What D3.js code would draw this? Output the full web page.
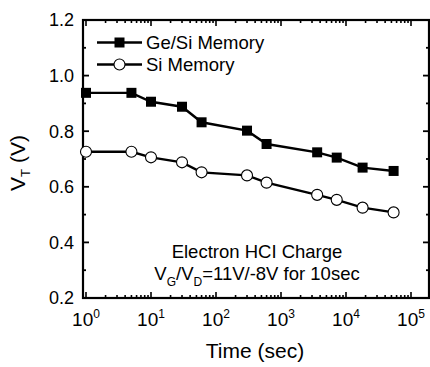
<!DOCTYPE html>
<html><head><meta charset="utf-8">
<script src="https://cdn.jsdelivr.net/npm/d3@7"></script>
<style>html,body{margin:0;padding:0;background:#fff;}svg{display:block;}text{font-family:"Liberation Sans",Arial,Helvetica,sans-serif;fill:#000;}</style>
</head><body>
<svg id="chart" width="430" height="367"></svg>
<script>
const times = [1, 5, 10, 30, 60, 300, 600, 3600, 7200, 18000, 54000];
const geSiValues = [0.938, 0.938, 0.906, 0.888, 0.832, 0.802, 0.754, 0.724, 0.705, 0.669, 0.657];
const siValues = [0.726, 0.726, 0.706, 0.688, 0.652, 0.641, 0.615, 0.571, 0.553, 0.525, 0.508];
const seriesNames = ["Ge/Si Memory", "Si Memory"];
const xTickExponents = [0, 1, 2, 3, 4, 5];
const yTickLabels = [0.2, 0.4, 0.6, 0.8, 1.0, 1.2];
const yMinorTicks = [0.3, 0.5, 0.7, 0.9, 1.1];

const svg = d3.select("#chart");
const box = {left: 83, right: 429, top: 20, bottom: 298};
const x = d3.scaleLog().domain([1, 1e5]).range([86, 411]);
const y = d3.scaleLinear().domain([0.2, 1.2]).range([box.bottom, box.top]);

const g = svg.append("g");
g.append("rect").attr("x", box.left).attr("y", box.top)
  .attr("width", box.right - box.left).attr("height", box.bottom - box.top)
  .attr("fill", "none").attr("stroke", "#000").attr("stroke-width", 2.2);

const xTicks = [];
xTickExponents.forEach(e => {
  for (let m = 1; m <= 9; m++) {
    const v = m * Math.pow(10, e);
    if (v <= 1e5 * 1.0001) xTicks.push({v, major: m === 1});
  }
});
xTicks.forEach(t => {
  const px = x(t.v), len = t.major ? 6 : 3;
  g.append("line").attr("x1", px).attr("x2", px).attr("y1", box.bottom).attr("y2", box.bottom - len)
    .attr("stroke", "#000").attr("stroke-width", 1.6);
  g.append("line").attr("x1", px).attr("x2", px).attr("y1", box.top).attr("y2", box.top + len)
    .attr("stroke", "#000").attr("stroke-width", 1.6);
});
xTickExponents.forEach(e => {
  const t = g.append("text").attr("x", x(Math.pow(10, e))).attr("y", 326)
    .attr("text-anchor", "middle").style("font-size", "19px");
  t.append("tspan").text("10");
  t.append("tspan").attr("dy", -8).style("font-size", "12px").text(e);
});

yTickLabels.forEach(v => {
  const py = y(v);
  g.append("line").attr("x1", box.left).attr("x2", box.left + 6).attr("y1", py).attr("y2", py)
    .attr("stroke", "#000").attr("stroke-width", 1.8);
  g.append("line").attr("x1", box.right).attr("x2", box.right - 6).attr("y1", py).attr("y2", py)
    .attr("stroke", "#000").attr("stroke-width", 1.8);
  g.append("text").attr("x", 74).attr("y", py).attr("dy", "0.36em")
    .attr("text-anchor", "end").style("font-size", "18px").text(v.toFixed(1));
});
yMinorTicks.forEach(v => {
  const py = y(v);
  g.append("line").attr("x1", box.left).attr("x2", box.left + 3).attr("y1", py).attr("y2", py)
    .attr("stroke", "#000").attr("stroke-width", 1.8);
  g.append("line").attr("x1", box.right).attr("x2", box.right - 3).attr("y1", py).attr("y2", py)
    .attr("stroke", "#000").attr("stroke-width", 1.8);
});

g.append("text").attr("x", (box.left + box.right) / 2 - 1).attr("y", 358)
  .attr("text-anchor", "middle").style("font-size", "21px").text("Time (sec)");
const yl = g.append("text").attr("transform", `translate(25,${(box.top + box.bottom) / 2 + 4}) rotate(-90)`)
  .attr("text-anchor", "middle").style("font-size", "21px");
yl.append("tspan").text("V");
yl.append("tspan").attr("dy", 5).style("font-size", "13px").text("T");
yl.append("tspan").attr("dy", -5).text(" (V)");

const line = d3.line().x((d, i) => x(times[i])).y(d => y(d));
[geSiValues, siValues].forEach(vals => {
  g.append("path").datum(vals).attr("d", line).attr("fill", "none")
    .attr("stroke", "#000").attr("stroke-width", 2.4);
});
g.selectAll(".sq").data(geSiValues).enter().append("rect")
  .attr("x", (d, i) => x(times[i]) - 5).attr("y", d => y(d) - 5)
  .attr("width", 10).attr("height", 10).attr("fill", "#000");
g.selectAll(".ci").data(siValues).enter().append("circle")
  .attr("cx", (d, i) => x(times[i])).attr("cy", d => y(d)).attr("r", 5.5)
  .attr("fill", "#fff").attr("stroke", "#000").attr("stroke-width", 1.1);

const legY = [42.5, 64.5];
seriesNames.forEach((name, k) => {
  const ly = legY[k];
  g.append("line").attr("x1", 97).attr("x2", 142).attr("y1", ly).attr("y2", ly)
    .attr("stroke", "#000").attr("stroke-width", 2.4);
  if (k === 0) {
    g.append("rect").attr("x", 119.5 - 5).attr("y", ly - 5).attr("width", 10).attr("height", 10).attr("fill", "#000");
  } else {
    g.append("circle").attr("cx", 119.5).attr("cy", ly).attr("r", 5.5)
      .attr("fill", "#fff").attr("stroke", "#000").attr("stroke-width", 1.1);
  }
  g.append("text").attr("x", 146).attr("y", ly).attr("dy", "0.36em")
    .style("font-size", "18.5px").text(name);
});

g.append("text").attr("x", 257).attr("y", 258).attr("text-anchor", "middle")
  .style("font-size", "18.5px").text("Electron HCI Charge");
const a2 = g.append("text").attr("x", 257).attr("y", 280).attr("text-anchor", "middle")
  .style("font-size", "18.5px");
a2.append("tspan").text("V");
a2.append("tspan").attr("dy", 6).style("font-size", "12px").text("G");
a2.append("tspan").attr("dy", -6).text("/V");
a2.append("tspan").attr("dy", 6).style("font-size", "12px").text("D");
a2.append("tspan").attr("dy", -6).text("=11V/-8V for 10sec");
</script>
</body></html>
